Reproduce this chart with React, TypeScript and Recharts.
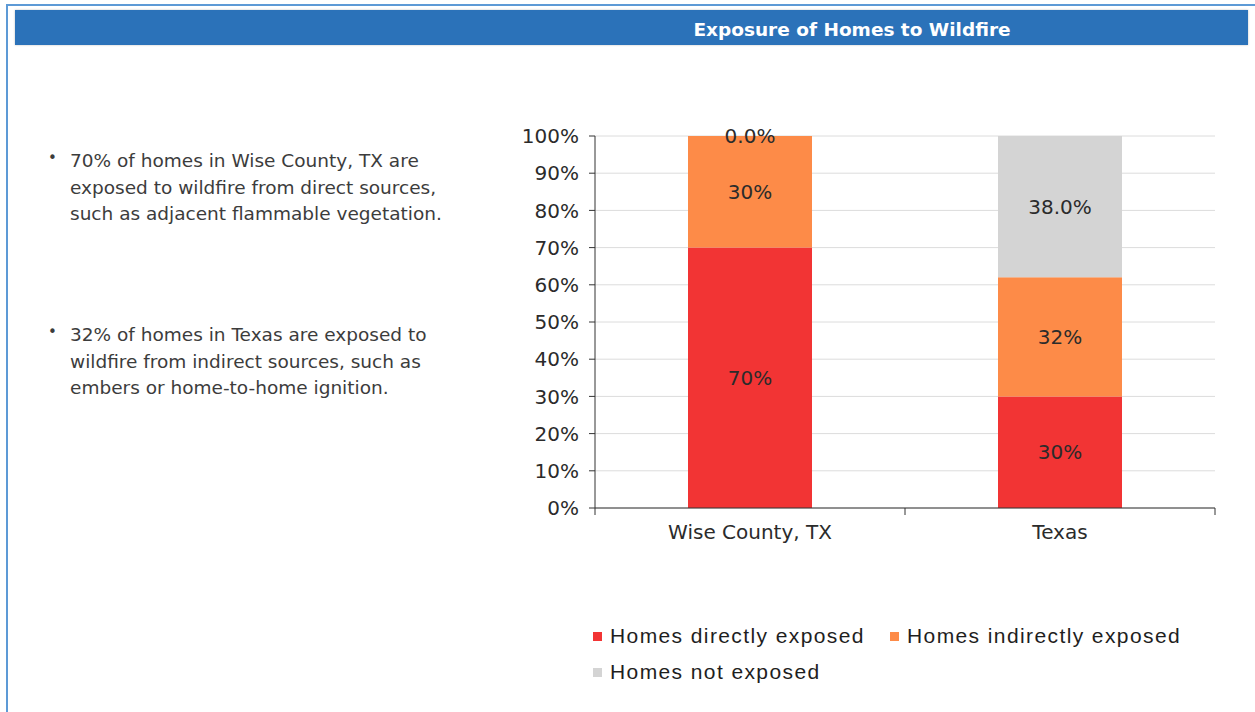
import React from 'react';
import { BarChart, Bar, XAxis, YAxis, CartesianGrid, Legend, LabelList } from 'recharts';

const categories = ['Wise County, TX', 'Texas'];
const directValues = [70, 30];
const indirectValues = [30, 32];
const notExposedValues = [0, 38];
const seriesNames = ['Homes directly exposed', 'Homes indirectly exposed', 'Homes not exposed'];
const seriesColors = ['#f23434', '#fd8b48', '#d4d4d4'];
const yTicks = [0, 10, 20, 30, 40, 50, 60, 70, 80, 90, 100];
const bulletTexts = [
  ['70% of homes in Wise County, TX are', 'exposed to wildfire from direct sources,', 'such as adjacent flammable vegetation.'],
  ['32% of homes in Texas are exposed to', 'wildfire from indirect sources, such as', 'embers or home-to-home ignition.'],
];

const data = categories.map((name, i) => ({
  name,
  direct: directValues[i],
  indirect: indirectValues[i],
  notExposed: notExposedValues[i],
}));

const AXIS_FONT = "'DejaVu Sans', sans-serif";
const X_TICK_MARGIN = 17;

const XTick = (props: any) => {
  const { x, y, payload, index, visibleTicksCount } = props;
  const off = payload && typeof payload.offset === 'number' ? payload.offset : 0;
  const axisY = y - X_TICK_MARGIN;
  const isLast = index === (visibleTicksCount ?? 0) - 1;
  return (
    <g>
      <line x1={x - off} x2={x - off} y1={axisY} y2={axisY + 7} stroke="#333" strokeWidth={1} />
      {isLast && <line x1={x + off} x2={x + off} y1={axisY} y2={axisY + 7} stroke="#333" strokeWidth={1} />}
      <text x={x} y={y} dy="0.71em" textAnchor="middle" fill="#2b2b2b" fontSize={20} fontFamily={AXIS_FONT}>
        {payload.value}
      </text>
    </g>
  );
};

const LegendContent = (props: any) => {
  const { payload } = props;
  return (
    <div style={{ display: 'flex', flexWrap: 'wrap', width: 640, height: 72, fontFamily: "'Liberation Sans', Arial, sans-serif", fontSize: 21, letterSpacing: '1.4px', color: '#1e1e1e' }}>
      {(payload || []).map((p: any, i: number) => (
        <div key={i} style={{ display: 'flex', alignItems: 'center', height: 36, width: i === 0 ? 297 : 320, whiteSpace: 'nowrap' }}>
          <span style={{ display: 'inline-block', width: 9, height: 9, background: p.color, marginRight: 8 }} />
          <span>{p.value}</span>
        </div>
      ))}
    </div>
  );
};

const fmtInt = (v: any) => `${v}%`;
const fmtDec = (v: any) => `${Number(v).toFixed(1)}%`;
const fmtDecNonZero = (v: any) => (Number(v) === 0 ? '' : fmtDec(v));

// Draws the "not exposed" label when that segment is empty: it sits on the top edge of the stack.
const EmptyTopLabel = (props: any) => {
  const { index } = props;
  const vb = props.viewBox || props;
  const v = notExposedValues[index];
  if (v !== 0 || vb == null) return null;
  const x = Number(vb.x) + Number(vb.width) / 2;
  const h = Number(vb.height);
  const top = h < 0 ? Number(vb.y) + h : Number(vb.y);
  return (
    <text x={x} y={top} textAnchor="middle" dominantBaseline="central" fill="#2b2b2b" fontSize={20} fontFamily={AXIS_FONT}>
      {fmtDec(v)}
    </text>
  );
};

export default function App() {
  return (
    <div style={{ position: 'relative', width: 1255, height: 712, overflow: 'hidden', background: '#fff' }}>
      <style>{'html,body{margin:0;padding:0;}'}</style>
      <div style={{ position: 'absolute', left: 6, top: 4, width: 1249, height: 2, background: '#5d9ad6' }} />
      <div style={{ position: 'absolute', left: 6, top: 4, width: 2, height: 708, background: '#5d9ad6' }} />
      <div style={{ position: 'absolute', left: 15, top: 10, width: 1233, height: 35, background: '#2b72b9', boxShadow: '0 0 2px rgba(0,0,0,0.25)' }}>
        <div style={{ position: 'absolute', left: 637, top: 2, width: 400, height: 35, lineHeight: '35px', textAlign: 'center', color: '#fff', fontFamily: "'DejaVu Sans', sans-serif", fontWeight: 'bold', fontSize: 18.5 }}>
          Exposure of Homes to Wildfire
        </div>
      </div>
      {bulletTexts.map((lines, bi) => (
        <div key={bi} style={{ position: 'absolute', left: 48, top: bi === 0 ? 148 : 322, fontFamily: AXIS_FONT, fontSize: 18.5, color: '#3c3c3c', lineHeight: '26.5px' }}>
          <span style={{ position: 'absolute', left: 0, top: -3, fontSize: 15 }}>•</span>
          <div style={{ marginLeft: 22 }}>
            {lines.map((l, li) => (
              <div key={li} style={{ whiteSpace: 'nowrap' }}>{l}</div>
            ))}
          </div>
        </div>
      ))}
      <div style={{ position: 'absolute', left: 480, top: 120 }}>
        <BarChart width={760} height={580} data={data} margin={{ top: 16, right: 25, left: 0, bottom: 10 }} barCategoryGap="30%">
          <CartesianGrid vertical={false} stroke="#dcdcdc" />
          <XAxis
            dataKey="name"
            height={110}
            tickLine={false}
            tickSize={0}
            tickMargin={X_TICK_MARGIN}
            axisLine={{ stroke: '#333' }}
            tick={<XTick />}
            interval={0}
          />
          <YAxis
            width={115}
            domain={[0, 100]}
            ticks={yTicks}
            tickFormatter={(v: any) => `${v}%`}
            tickSize={6}
            tickMargin={10}
            axisLine={{ stroke: '#333' }}
            tickLine={{ stroke: '#333' }}
            tick={{ fill: '#2b2b2b', fontSize: 20, fontFamily: AXIS_FONT }}
            interval={0}
          />
          <Legend verticalAlign="bottom" content={<LegendContent />} wrapperStyle={{ left: 113, width: 640 }} />
          <Bar dataKey="direct" name={seriesNames[0]} stackId="a" fill={seriesColors[0]} isAnimationActive={false}>
            <LabelList dataKey="direct" position="center" formatter={fmtInt} fill="#2b2b2b" fontSize={20} fontFamily={AXIS_FONT} />
          </Bar>
          <Bar dataKey="indirect" name={seriesNames[1]} stackId="a" fill={seriesColors[1]} isAnimationActive={false}>
            <LabelList dataKey="indirect" position="center" formatter={fmtInt} fill="#2b2b2b" fontSize={20} fontFamily={AXIS_FONT} />
            <LabelList dataKey="notExposed" content={<EmptyTopLabel />} />
          </Bar>
          <Bar dataKey="notExposed" name={seriesNames[2]} stackId="a" fill={seriesColors[2]} isAnimationActive={false}>
            <LabelList dataKey="notExposed" position="center" formatter={fmtDecNonZero} fill="#2b2b2b" fontSize={20} fontFamily={AXIS_FONT} />
          </Bar>
        </BarChart>
      </div>
    </div>
  );
}
